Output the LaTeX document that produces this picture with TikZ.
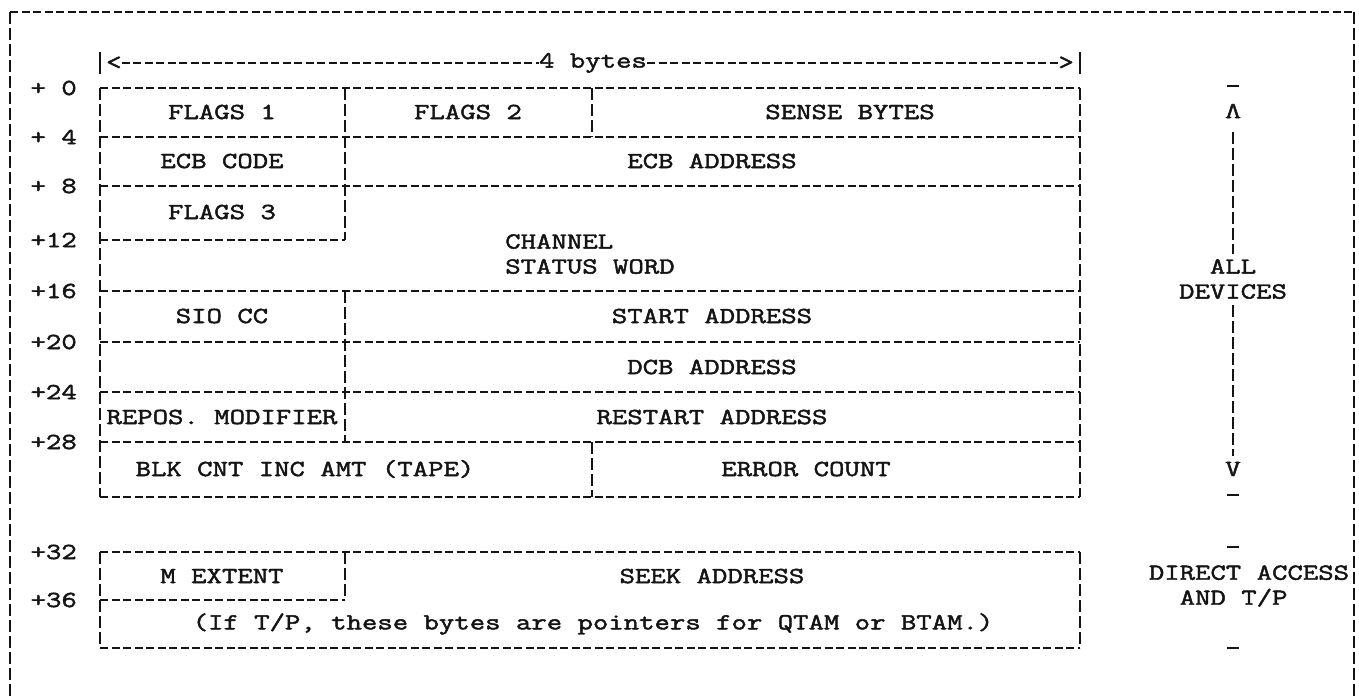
\documentclass[tikz,border=0pt]{standalone}
\usepackage{fontspec}
\newfontfamily\twfont[FakeStretch=1.3,FakeBold=2]{Latin Modern Mono}
\begin{document}
\begin{tikzpicture}[x=1pt,y=-1pt,
  ink/.style={color=black!92},
  hrule/.style={ink,line width=2.3pt,dash pattern=on 8pt off 3.5pt},
  vrule/.style={ink,line width=2.8pt,dash pattern=on 12pt off 4pt},
  txt/.style={ink,inner sep=0pt,font=\twfont\fontsize{23}{25}\selectfont},
  off/.style={txt,anchor=east},
  tick/.style={ink,line width=2.5pt}]
\useasboundingbox (0,0) rectangle (1359,697);

% outer frame (open at the bottom)
\draw[hrule] (10,12) -- (1354,12);
\draw[vrule] (10,12) -- (10,697);
\draw[vrule] (1354,12) -- (1354,697);

% width indicator
\node[txt] (four) at (593,63) {4 bytes};
\node[txt,anchor=west] (lt) at (106,63) {<};
\node[txt,anchor=east] (gt) at (1074,63) {>};
\coordinate (barL) at (100,63);
\coordinate (barR) at (1080,63);
\draw[tick] ([yshift=-11pt]barL) -- ([yshift=11pt]barL);
\draw[tick] ([yshift=-11pt]barR) -- ([yshift=11pt]barR);
\draw[hrule] (lt.east) -- (four.west);
\draw[hrule] (four.east) -- (gt.west);

% ---- main block, offsets +0 .. +32
\foreach \y in {88,137,186,291,342,392,442,497}
  \draw[hrule] (100,\y) -- (1080,\y);
\draw[hrule] (100,240) -- (345,240);
\draw[vrule] (100,88) -- (100,497);
\draw[vrule] (1080,88) -- (1080,497);
\draw[vrule] (345,88) -- (345,240);
\draw[vrule] (345,291) -- (345,442);
\draw[vrule] (592,88) -- (592,137);
\draw[vrule] (592,442) -- (592,497);

% ---- direct access block, offsets +32 .. +40
\foreach \y in {552,648}
  \draw[hrule] (100,\y) -- (1080,\y);
\draw[hrule] (100,600) -- (345,600);
\draw[vrule] (100,552) -- (100,648);
\draw[vrule] (1080,552) -- (1080,648);
\draw[vrule] (345,552) -- (345,600);

% offsets
\node[off] (o0)  at (77,88)  {+ 0};
\node[off] (o4)  at (77,137) {+ 4};
\node[off] (o8)  at (77,186) {+ 8};
\node[off] (o12) at (77,240) {+12};
\node[off] (o16) at (77,291) {+16};
\node[off] (o20) at (77,342) {+20};
\node[off] (o24) at (77,392) {+24};
\node[off] (o28) at (77,442) {+28};
\node[off] (o32) at (77,552) {+32};
\node[off] (o36) at (77,600) {+36};

% field names
\node[txt] (flags1) at (222,112) {FLAGS 1};
\node[txt] (flags2) at (468,112) {FLAGS 2};
\node[txt] (sense)  at (850,112) {SENSE BYTES};
\node[txt] (ecbc)   at (222,161) {ECB CODE};
\node[txt] (ecba)   at (712,161) {ECB ADDRESS};
\node[txt] (flags3) at (222,212) {FLAGS 3};
\node[txt,align=left] (csw) at (590,254) {CHANNEL\\STATUS WORD};
\node[txt] (siocc)  at (222,316) {SIO CC};
\node[txt] (start)  at (712,316) {START ADDRESS};
\node[txt] (dcb)    at (712,367) {DCB ADDRESS};
\node[txt] (repos)  at (222,417) {REPOS. MODIFIER};
\node[txt] (restart) at (712,417) {RESTART ADDRESS};
\node[txt] (blk)    at (305,469) {BLK CNT INC AMT (TAPE)};
\node[txt] (errc)   at (806,469) {ERROR COUNT};
\node[txt] (mext)   at (222,576) {M EXTENT};
\node[txt] (seek)   at (712,576) {SEEK ADDRESS};
\node[txt] (tpnote) at (593,624) {(If T/P, these bytes are pointers for QTAM or BTAM.)};

% scope of the fields on the right
\node[txt,rotate=180] (up) at (1233,111) {V};
\node[txt,align=center] (all) at (1233,279) {ALL\\DEVICES};
\node[txt] (down) at (1233,469) {V};
\draw[vrule] ([yshift=-14pt]up.north) -- ([yshift=5pt]all.north);
\draw[vrule] ([yshift=-6pt]all.south) -- ([yshift=6pt]down.north);
\node[txt,align=left] (da) at (1249,586) {DIRECT ACCESS\\\phantom{DI}AND T/P};
\foreach \y [count=\i] in {86,495,547,648}
  \draw[tick] (1227,\y) coordinate (m\i) -- (1239,\y);
\end{tikzpicture}
\end{document}
